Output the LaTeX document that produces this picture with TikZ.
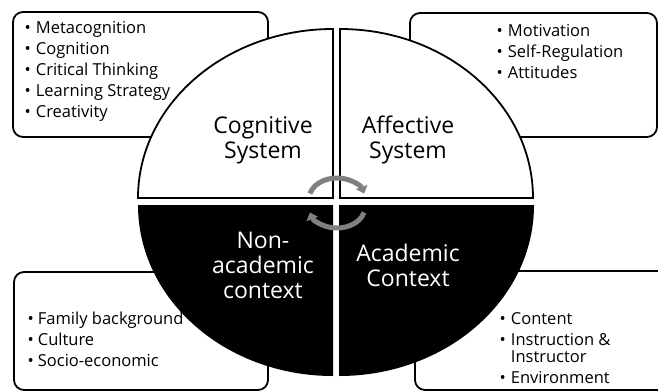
\documentclass[tikz,border=0pt]{standalone}
\usepackage{fontspec}
\setmainfont{Open Sans}
\usetikzlibrary{arrows.meta}
\begin{document}
\begin{tikzpicture}[x=1pt,y=-1pt,
  every node/.style={align=center,inner sep=0pt},
  listbox/.style={draw,line width=1.8pt,rounded corners=10pt,fill=white},
  upper/.style={draw,line width=1.8pt,fill=white},
  lower/.style={fill=black},
  system/.style={font=\fontsize{23}{25}\selectfont},
  items/.style={font=\fontsize{16.5}{21}\selectfont,anchor=base west,align=left},
  cycle arrow/.style={gray,line width=5pt,-{Triangle[width=12pt,length=7pt]}}]
\useasboundingbox (0,0) rectangle (658,391);
\clip (0,0) rectangle (658,391);

\draw[listbox] (13,12) rectangle (268,137);
\draw[listbox] (410,13) rectangle (657,137);
\draw[listbox] (14,272) rectangle (268,390);
\draw[listbox] (415,271) rectangle (690,390);

\draw[upper] (333,198) -- (138,198) arc[start angle=180,end angle=270,x radius=195,y radius=169] -- cycle;
\draw[upper] (340,198) -- (340,29) arc[start angle=270,end angle=360,x radius=193,y radius=169] -- cycle;
\fill[lower] (333,205) -- (138,205) arc[start angle=180,end angle=90,x radius=195,y radius=171] -- cycle;
\fill[lower] (339,205) -- (534,205) arc[start angle=0,end angle=90,x radius=195,y radius=171] -- cycle;

\node[system] (cog) at (263,140) {Cognitive\\System};
\node[system] (aff) at (408,140) {Affective\\System};
\node[system,white] (nonacad) at (263,265) {Non-\\academic\\context};
\node[system,white] (acad) at (408,265) {Academic\\Context};

\node[items] (cogitems) at (24.5,33.5) {\begin{tabular}[t]{@{}l@{\hspace{5pt}}l@{}}
  • & Metacognition\\ • & Cognition\\ • & Critical Thinking\\ • & Learning Strategy\\ • & Creativity
\end{tabular}};
\node[items] (affitems) at (496.5,36.5) {\begin{tabular}[t]{@{}l@{\hspace{5pt}}l@{}}
  • & Motivation\\ • & Self-Regulation\\ • & Attitudes
\end{tabular}};
\node[items] (nonacaditems) at (27.5,324.5) {\begin{tabular}[t]{@{}l@{\hspace{4pt}}l@{}}
  • & Family background\\ • & Culture\\ • & Socio-economic
\end{tabular}};
\node[items] (acaditems) at (499.5,324.5) {\begin{tabular}[t]{@{}l@{\hspace{5pt}}l@{}}
  • & Content\\ • & Instruction \&\\[-4pt] & Instructor\\ • & Environment
\end{tabular}};

\coordinate (hubtop) at (337,199);
\coordinate (hubbottom) at (337,207);
\draw[cycle arrow] ([shift={(195:28 and 21)}]hubtop) arc[start angle=195,end angle=345,x radius=28,y radius=21];
\draw[cycle arrow] ([shift={(15:28 and 21)}]hubbottom) arc[start angle=15,end angle=165,x radius=28,y radius=21];
\end{tikzpicture}
\end{document}
